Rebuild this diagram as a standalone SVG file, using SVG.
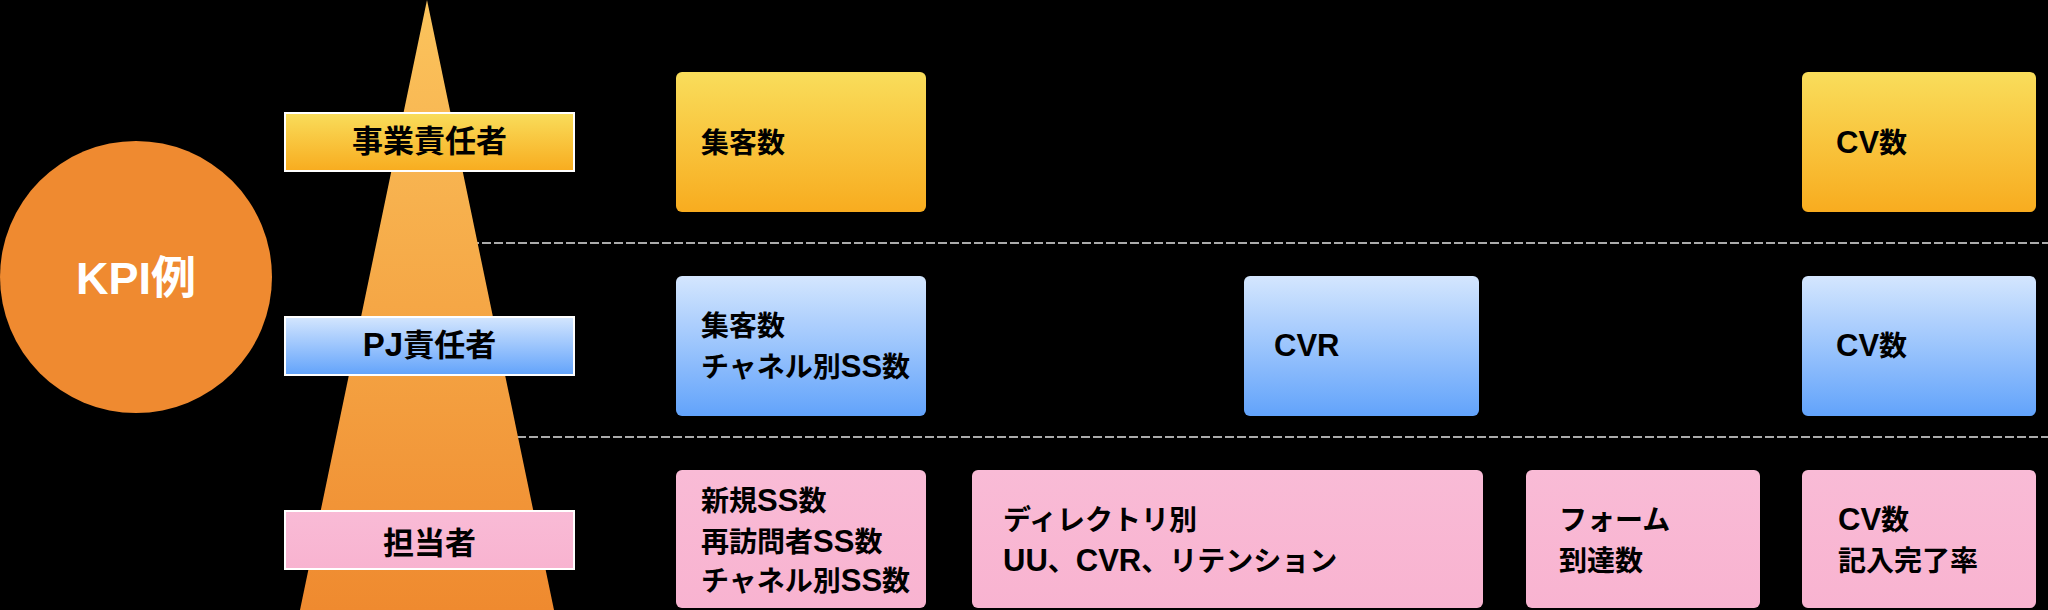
<svg xmlns="http://www.w3.org/2000/svg" width="2048" height="610" viewBox="0 0 2048 610">
  <defs>
    <linearGradient id="gTri" x1="0" y1="0" x2="0" y2="1">
      <stop offset="0" stop-color="#FBC45D"/>
      <stop offset="1" stop-color="#EF8A2F"/>
    </linearGradient>
    <linearGradient id="gYel" x1="0" y1="0" x2="0" y2="1">
      <stop offset="0" stop-color="#F9DD5B"/>
      <stop offset="1" stop-color="#F8AC1F"/>
    </linearGradient>
    <linearGradient id="gBlue" x1="0" y1="0" x2="0" y2="1">
      <stop offset="0" stop-color="#D4E6FE"/>
      <stop offset="1" stop-color="#62A3FB"/>
    </linearGradient>
    <linearGradient id="gPink" x1="0" y1="0" x2="0" y2="1">
      <stop offset="0" stop-color="#F9BBD6"/>
      <stop offset="1" stop-color="#F8B3D0"/>
    </linearGradient>
  </defs>
  <style>
    text { font-family: "Liberation Sans", "Noto Sans CJK JP", sans-serif; font-weight: 700; fill: #000; }
    .lbl { font-size: 31px; text-anchor: middle; }
    .lbl .la { font-size: 33px; }
    .kpi { font-size: 28px; }
    .kpi .la { font-size: 31px; }
    .tag { stroke: #FFFFFF; stroke-width: 2; }
    .dash { stroke: #ABABAB; stroke-width: 2; stroke-dasharray: 9 3; fill: none; }
  </style>
  <rect x="0" y="0" width="2048" height="610" fill="#000000"/>

  <g id="connectors">
    <line class="dash" x1="470" y1="243" x2="2048" y2="243"/>
    <line class="dash" x1="505" y1="437" x2="2048" y2="437"/>
  </g>

  <g id="pyramid">
    <polygon points="427,0 554,610 300,610" fill="url(#gTri)"/>
  </g>

  <g id="kpi-circle">
    <circle cx="136" cy="277" r="136" fill="#EF8A30"/>
    <text x="136" y="294" font-size="45" text-anchor="middle" style="fill:#FFFFFF">KPI例</text>
  </g>

  <g id="label-jigyo">
    <rect class="tag" x="285" y="113" width="289" height="58" fill="url(#gYel)"/>
    <text class="lbl" x="429.5" y="152">事業責任者</text>
  </g>
  <g id="label-pj">
    <rect class="tag" x="285" y="317" width="289" height="58" fill="url(#gBlue)"/>
    <text class="lbl" x="429.5" y="355.5"><tspan class="la">PJ</tspan>責任者</text>
  </g>
  <g id="label-tanto">
    <rect class="tag" x="285" y="511" width="289" height="58" fill="url(#gPink)"/>
    <text class="lbl" x="429.5" y="554">担当者</text>
  </g>

  <g id="box-r1-shukyaku">
    <rect x="676" y="72" width="250" height="140" rx="6" fill="url(#gYel)"/>
    <text class="kpi" x="701" y="153">集客数</text>
  </g>
  <g id="box-r1-cv">
    <rect x="1802" y="72" width="234" height="140" rx="6" fill="url(#gYel)"/>
    <text class="kpi" x="1836" y="153"><tspan class="la">CV</tspan>数</text>
  </g>

  <g id="box-r2-shukyaku">
    <rect x="676" y="276" width="250" height="140" rx="6" fill="url(#gBlue)"/>
    <text class="kpi" x="701" y="336">集客数</text>
    <text class="kpi" x="701" y="377">チャネル別<tspan class="la">SS</tspan>数</text>
  </g>
  <g id="box-r2-cvr">
    <rect x="1244" y="276" width="235" height="140" rx="6" fill="url(#gBlue)"/>
    <text class="kpi" x="1274" y="355.5"><tspan class="la">CVR</tspan></text>
  </g>
  <g id="box-r2-cv">
    <rect x="1802" y="276" width="234" height="140" rx="6" fill="url(#gBlue)"/>
    <text class="kpi" x="1836" y="355.5"><tspan class="la">CV</tspan>数</text>
  </g>

  <g id="box-r3-ss">
    <rect x="676" y="470" width="250" height="138" rx="6" fill="url(#gPink)"/>
    <text class="kpi" x="701" y="511">新規<tspan class="la">SS</tspan>数</text>
    <text class="kpi" x="701" y="551.5">再訪問者<tspan class="la">SS</tspan>数</text>
    <text class="kpi" x="701" y="591">チャネル別<tspan class="la">SS</tspan>数</text>
  </g>
  <g id="box-r3-directory">
    <rect x="972" y="470" width="511" height="138" rx="6" fill="url(#gPink)"/>
    <text class="kpi" x="1003" y="530">ディレクトリ別</text>
    <text class="kpi" x="1003" y="570.5"><tspan class="la">UU</tspan>、<tspan class="la">CVR</tspan>、リテンション</text>
  </g>
  <g id="box-r3-form">
    <rect x="1526" y="470" width="234" height="138" rx="6" fill="url(#gPink)"/>
    <text class="kpi" x="1559" y="530">フォーム</text>
    <text class="kpi" x="1559" y="570.5">到達数</text>
  </g>
  <g id="box-r3-cv">
    <rect x="1802" y="470" width="234" height="138" rx="6" fill="url(#gPink)"/>
    <text class="kpi" x="1838" y="530"><tspan class="la">CV</tspan>数</text>
    <text class="kpi" x="1838" y="570.5">記入完了率</text>
  </g>
</svg>
